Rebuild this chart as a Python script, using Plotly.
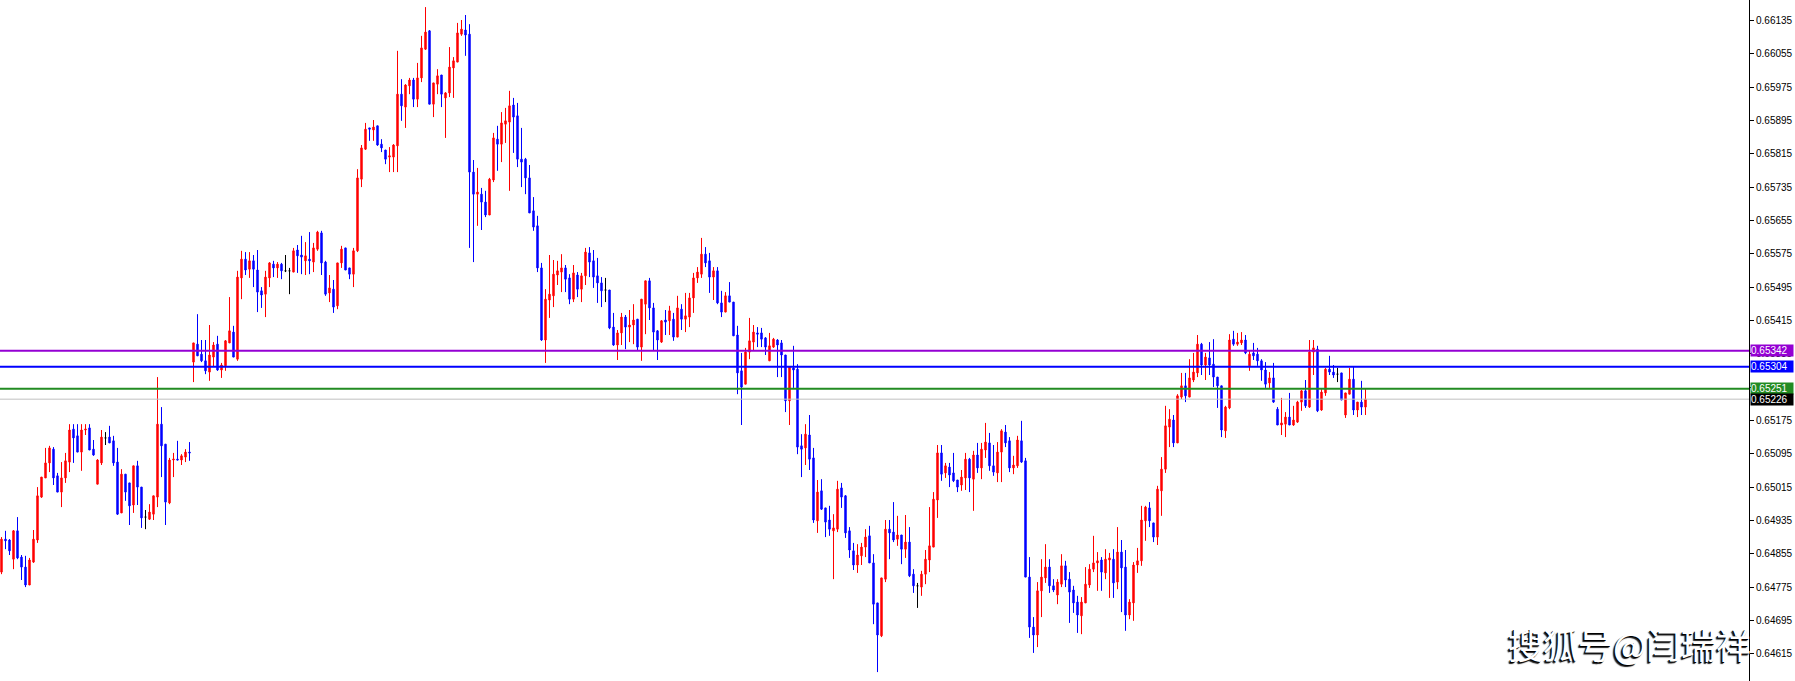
import plotly.graph_objects as go

# ---- data ----
opens = [
0.64811,0.64890,0.64888,0.64842,0.64910,0.64847,0.64823,0.64780,0.64835,0.64888,0.64991,0.65037,
0.65073,0.65106,0.65042,0.65003,0.65037,0.65075,0.65154,0.65138,0.65099,0.65152,0.65157,0.65106,
0.65022,0.65073,0.65133,0.65135,0.65126,0.65075,0.64953,0.65046,0.65025,0.64972,0.65066,0.65015,
0.64943,0.64938,0.64950,0.64991,0.65166,0.65118,0.64977,0.65080,0.65082,0.65080,0.65087,0.65099,
0.65315,0.65358,0.65334,0.65318,0.65291,0.65327,0.65358,0.65296,0.65306,0.65361,0.65387,0.65322,
0.65517,0.65562,0.65538,0.65558,0.65536,0.65486,0.65478,0.65517,0.65550,0.65541,0.65550,0.65534,
0.65534,0.65531,0.65584,0.65572,0.65558,0.65562,0.65555,0.65586,0.65625,0.65555,0.65481,0.65490,
0.65450,0.65553,0.65589,0.65541,0.65526,0.65582,0.65754,0.65826,0.65877,0.65872,0.65882,0.65838,
0.65824,0.65807,0.65807,0.65834,0.65958,0.65927,0.65978,0.65992,0.65946,0.65997,0.66066,0.66110,
0.65934,0.65982,0.66004,0.65949,0.65961,0.66021,0.66035,0.66102,0.66112,0.66102,0.65771,0.65718,
0.65718,0.65699,0.65668,0.65752,0.65850,0.65838,0.65886,0.65891,0.65932,0.65906,0.65802,0.65802,
0.65757,0.65678,0.65642,0.65541,0.65368,0.65464,0.65474,0.65524,0.65531,0.65541,0.65517,0.65466,
0.65524,0.65490,0.65522,0.65577,0.65558,0.65522,0.65505,0.65488,0.65488,0.65399,0.65356,0.65385,
0.65423,0.65399,0.65404,0.65418,0.65351,0.65454,0.65510,0.65445,0.65390,0.65363,0.65416,0.65414,
0.65418,0.65375,0.65442,0.65418,0.65423,0.65469,0.65517,0.65526,0.65574,0.65558,0.65519,0.65534,
0.65457,0.65435,0.65474,0.65459,0.65380,0.65294,0.65262,0.65339,0.65363,0.65385,0.65385,0.65373,
0.65318,0.65351,0.65368,0.65361,0.65332,0.65222,0.65301,0.65298,0.65114,0.65109,0.65140,0.65085,
0.64934,0.65006,0.64965,0.64936,0.64910,0.64914,0.65013,0.64994,0.64910,0.64862,0.64828,0.64850,
0.64871,0.64898,0.64833,0.64737,0.64658,0.64794,0.64914,0.64907,0.64890,0.64900,0.64866,0.64883,
0.64806,0.64778,0.64775,0.64806,0.64840,0.64871,0.64984,0.65097,0.65049,0.65063,0.65049,0.65032,
0.65020,0.65037,0.65082,0.65034,0.65092,0.65061,0.65104,0.65121,0.65066,0.65049,0.65099,0.65147,
0.65126,0.65061,0.65066,0.65126,0.65078,0.64799,0.64679,0.64660,0.64766,0.64797,0.64823,0.64778,
0.64756,0.64782,0.64826,0.64794,0.64768,0.64739,0.64706,0.64737,0.64780,0.64818,0.64833,0.64840,
0.64809,0.64840,0.64842,0.64787,0.64859,0.64823,0.64708,0.64737,0.64828,0.64838,0.64934,0.64965,
0.64929,0.64895,0.65006,0.65058,0.65159,0.65176,0.65121,0.65231,0.65258,0.65231,0.65272,0.65289,
0.65358,0.65308,0.65325,0.65310,0.65279,0.65258,0.65150,0.65205,0.65370,0.65358,0.65361,0.65368,
0.65306,0.65337,0.65334,0.65318,0.65296,0.65265,0.65277,0.65202,0.65164,0.65166,0.65183,0.65164,
0.65171,0.65219,0.65246,0.65207,0.65339,0.65346,0.65200,0.65241,0.65298,0.65291,0.65286,0.65289,
0.65188,0.65238,0.65274,0.65200,0.65219,0.65207]
highs = [
0.64895,0.64910,0.64890,0.64912,0.64943,0.64852,0.64850,0.64845,0.64912,0.65015,0.65039,0.65109,
0.65114,0.65111,0.65049,0.65075,0.65097,0.65166,0.65166,0.65166,0.65166,0.65166,0.65166,0.65128,
0.65082,0.65152,0.65147,0.65162,0.65138,0.65109,0.65058,0.65046,0.65025,0.65066,0.65078,0.65015,
0.64960,0.64974,0.64994,0.65279,0.65207,0.65118,0.65085,0.65097,0.65126,0.65094,0.65106,0.65123,
0.65361,0.65430,0.65368,0.65368,0.65404,0.65363,0.65378,0.65313,0.65368,0.65471,0.65402,0.65534,
0.65582,0.65579,0.65579,0.65572,0.65584,0.65495,0.65534,0.65555,0.65558,0.65555,0.65553,0.65572,
0.65541,0.65589,0.65596,0.65618,0.65603,0.65627,0.65601,0.65630,0.65630,0.65558,0.65524,0.65512,
0.65553,0.65594,0.65589,0.65541,0.65589,0.65778,0.65836,0.65889,0.65877,0.65896,0.65882,0.65850,
0.65824,0.65831,0.65838,0.66062,0.65994,0.65982,0.65997,0.65997,0.66033,0.66098,0.66167,0.66112,
0.65985,0.66018,0.66004,0.65963,0.66071,0.66047,0.66129,0.66136,0.66148,0.66126,0.65800,0.65781,
0.65733,0.65726,0.65757,0.65865,0.65882,0.65915,0.65925,0.65966,0.65949,0.65937,0.65877,0.65805,
0.65788,0.65711,0.65666,0.65553,0.65490,0.65572,0.65560,0.65558,0.65574,0.65548,0.65526,0.65548,
0.65531,0.65529,0.65589,0.65591,0.65584,0.65565,0.65519,0.65517,0.65488,0.65433,0.65392,0.65433,
0.65428,0.65440,0.65454,0.65418,0.65466,0.65510,0.65517,0.65457,0.65392,0.65416,0.65440,0.65450,
0.65433,0.65474,0.65454,0.65481,0.65481,0.65529,0.65543,0.65613,0.65591,0.65577,0.65543,0.65543,
0.65486,0.65483,0.65507,0.65459,0.65402,0.65337,0.65349,0.65421,0.65404,0.65399,0.65397,0.65375,
0.65385,0.65373,0.65370,0.65368,0.65332,0.65303,0.65354,0.65310,0.65142,0.65166,0.65188,0.65109,
0.65032,0.65034,0.64965,0.64970,0.64950,0.65030,0.65025,0.64996,0.64919,0.64881,0.64878,0.64881,
0.64914,0.64922,0.64854,0.64737,0.64797,0.64936,0.64936,0.64979,0.64946,0.64900,0.64948,0.64919,
0.64818,0.64785,0.64814,0.64864,0.64967,0.65003,0.65116,0.65116,0.65073,0.65073,0.65097,0.65032,
0.65056,0.65097,0.65085,0.65102,0.65121,0.65121,0.65169,0.65145,0.65116,0.65123,0.65154,0.65164,
0.65135,0.65090,0.65138,0.65174,0.65085,0.64847,0.64703,0.64787,0.64842,0.64878,0.64842,0.64794,
0.64794,0.64854,0.64838,0.64811,0.64778,0.64754,0.64751,0.64823,0.64830,0.64898,0.64859,0.64847,
0.64866,0.64857,0.64866,0.64919,0.64888,0.64864,0.64746,0.64835,0.64869,0.64970,0.64970,0.64979,
0.64929,0.65018,0.65087,0.65210,0.65202,0.65188,0.65238,0.65289,0.65289,0.65322,0.65337,0.65380,
0.65361,0.65337,0.65363,0.65370,0.65279,0.65258,0.65210,0.65382,0.65390,0.65385,0.65387,0.65380,
0.65344,0.65361,0.65349,0.65322,0.65315,0.65291,0.65313,0.65207,0.65229,0.65195,0.65241,0.65210,
0.65222,0.65248,0.65272,0.65368,0.65368,0.65354,0.65250,0.65301,0.65330,0.65308,0.65301,0.65289,
0.65241,0.65301,0.65303,0.65219,0.65270,0.65250]
lows = [
0.64806,0.64866,0.64852,0.64818,0.64842,0.64792,0.64775,0.64780,0.64833,0.64881,0.64989,0.65037,
0.65051,0.65020,0.65003,0.64967,0.65025,0.65051,0.65073,0.65099,0.65054,0.65140,0.65104,0.65090,
0.65022,0.65068,0.65116,0.65121,0.65066,0.64948,0.64953,0.64982,0.64924,0.64953,0.64972,0.64917,
0.64914,0.64936,0.64936,0.64967,0.65039,0.64924,0.64974,0.65039,0.65080,0.65068,0.65075,0.65078,
0.65267,0.65330,0.65315,0.65286,0.65270,0.65303,0.65294,0.65277,0.65294,0.65361,0.65327,0.65318,
0.65466,0.65524,0.65517,0.65495,0.65435,0.65445,0.65423,0.65495,0.65519,0.65517,0.65514,0.65531,
0.65478,0.65531,0.65529,0.65526,0.65524,0.65526,0.65531,0.65582,0.65524,0.65474,0.65459,0.65433,
0.65442,0.65541,0.65536,0.65514,0.65495,0.65579,0.65735,0.65824,0.65846,0.65846,0.65834,0.65819,
0.65790,0.65771,0.65771,0.65771,0.65894,0.65877,0.65958,0.65927,0.65927,0.65987,0.66064,0.65934,
0.65903,0.65958,0.65927,0.65853,0.65951,0.65949,0.66035,0.66098,0.66050,0.65589,0.65555,0.65642,
0.65632,0.65663,0.65668,0.65747,0.65774,0.65795,0.65841,0.65726,0.65817,0.65783,0.65735,0.65718,
0.65673,0.65630,0.65531,0.65366,0.65313,0.65421,0.65447,0.65500,0.65483,0.65483,0.65454,0.65459,
0.65471,0.65459,0.65500,0.65519,0.65493,0.65457,0.65447,0.65459,0.65394,0.65354,0.65320,0.65356,
0.65346,0.65363,0.65358,0.65342,0.65318,0.65382,0.65416,0.65344,0.65320,0.65361,0.65380,0.65380,
0.65366,0.65375,0.65392,0.65387,0.65399,0.65433,0.65505,0.65517,0.65543,0.65481,0.65464,0.65454,
0.65423,0.65435,0.65459,0.65378,0.65238,0.65164,0.65262,0.65322,0.65342,0.65351,0.65351,0.65332,
0.65318,0.65349,0.65279,0.65279,0.65195,0.65164,0.65253,0.65094,0.65039,0.65068,0.65056,0.64929,
0.64905,0.64960,0.64895,0.64898,0.64794,0.64907,0.64965,0.64893,0.64845,0.64816,0.64809,0.64828,
0.64847,0.64833,0.64686,0.64571,0.64655,0.64787,0.64842,0.64883,0.64874,0.64830,0.64845,0.64799,
0.64761,0.64725,0.64754,0.64782,0.64811,0.64871,0.64941,0.65030,0.65037,0.65015,0.65027,0.65003,
0.65006,0.65008,0.65003,0.64958,0.65049,0.65034,0.65085,0.65054,0.65042,0.65027,0.65027,0.65111,
0.65051,0.65046,0.65061,0.65073,0.64799,0.64653,0.64617,0.64631,0.64703,0.64785,0.64761,0.64763,
0.64734,0.64775,0.64775,0.64689,0.64713,0.64665,0.64662,0.64737,0.64773,0.64811,0.64766,0.64766,
0.64794,0.64749,0.64749,0.64770,0.64715,0.64670,0.64698,0.64694,0.64809,0.64826,0.64886,0.64919,
0.64883,0.64876,0.64946,0.65049,0.65111,0.65111,0.65121,0.65226,0.65219,0.65231,0.65267,0.65279,
0.65284,0.65272,0.65284,0.65255,0.65205,0.65135,0.65133,0.65202,0.65354,0.65354,0.65356,0.65334,
0.65294,0.65320,0.65306,0.65270,0.65253,0.65253,0.65217,0.65164,0.65140,0.65135,0.65164,0.65162,
0.65169,0.65198,0.65205,0.65205,0.65284,0.65195,0.65198,0.65234,0.65284,0.65277,0.65267,0.65224,
0.65181,0.65238,0.65188,0.65183,0.65188,0.65188]
closes = [
0.64890,0.64886,0.64862,0.64910,0.64845,0.64823,0.64780,0.64840,0.64890,0.64994,0.65039,0.65073,
0.65109,0.65037,0.65003,0.65037,0.65078,0.65152,0.65133,0.65099,0.65152,0.65154,0.65104,0.65092,
0.65080,0.65135,0.65133,0.65121,0.65073,0.64950,0.65046,0.65003,0.64970,0.65066,0.65015,0.64941,
0.64943,0.64955,0.64994,0.65166,0.65114,0.64979,0.65080,0.65082,0.65080,0.65090,0.65099,0.65097,
0.65361,0.65330,0.65318,0.65294,0.65332,0.65356,0.65296,0.65308,0.65366,0.65390,0.65327,0.65519,
0.65562,0.65536,0.65558,0.65538,0.65483,0.65476,0.65519,0.65553,0.65541,0.65550,0.65534,0.65534,
0.65534,0.65582,0.65570,0.65567,0.65570,0.65558,0.65589,0.65627,0.65553,0.65478,0.65493,0.65447,
0.65553,0.65586,0.65536,0.65526,0.65582,0.65757,0.65829,0.65874,0.65874,0.65879,0.65836,0.65829,
0.65802,0.65810,0.65836,0.65958,0.65930,0.65980,0.65992,0.65946,0.65997,0.66069,0.66107,0.65934,
0.65985,0.66002,0.65958,0.65961,0.66023,0.66038,0.66105,0.66114,0.66100,0.65771,0.65718,0.65723,
0.65699,0.65668,0.65754,0.65853,0.65838,0.65889,0.65894,0.65930,0.65903,0.65802,0.65795,0.65757,
0.65673,0.65639,0.65541,0.65368,0.65466,0.65478,0.65526,0.65534,0.65541,0.65514,0.65466,0.65529,
0.65490,0.65522,0.65579,0.65555,0.65519,0.65505,0.65486,0.65488,0.65397,0.65356,0.65385,0.65423,
0.65399,0.65404,0.65416,0.65351,0.65466,0.65510,0.65445,0.65387,0.65368,0.65414,0.65411,0.65438,
0.65375,0.65445,0.65418,0.65426,0.65469,0.65517,0.65531,0.65574,0.65553,0.65519,0.65534,0.65457,
0.65435,0.65474,0.65459,0.65378,0.65289,0.65255,0.65339,0.65366,0.65387,0.65382,0.65370,0.65351,
0.65354,0.65370,0.65356,0.65332,0.65222,0.65303,0.65296,0.65111,0.65106,0.65142,0.65082,0.64936,
0.65003,0.64962,0.64931,0.64914,0.64917,0.65010,0.64991,0.64905,0.64864,0.64828,0.64852,0.64871,
0.64895,0.64833,0.64734,0.64660,0.64797,0.64914,0.64905,0.64888,0.64900,0.64866,0.64883,0.64802,
0.64778,0.64778,0.64806,0.64842,0.64874,0.64986,0.65097,0.65046,0.65066,0.65044,0.65030,0.65015,
0.65039,0.65082,0.65037,0.65092,0.65061,0.65106,0.65123,0.65066,0.65051,0.65099,0.65150,0.65121,
0.65061,0.65068,0.65128,0.65075,0.64799,0.64679,0.64660,0.64766,0.64799,0.64823,0.64778,0.64768,
0.64787,0.64826,0.64792,0.64763,0.64737,0.64708,0.64739,0.64782,0.64818,0.64833,0.64838,0.64811,
0.64842,0.64845,0.64785,0.64859,0.64821,0.64708,0.64739,0.64828,0.64838,0.64936,0.64967,0.64934,
0.64895,0.65010,0.65058,0.65162,0.65178,0.65121,0.65234,0.65258,0.65234,0.65277,0.65291,0.65358,
0.65308,0.65327,0.65308,0.65279,0.65258,0.65152,0.65207,0.65368,0.65358,0.65363,0.65368,0.65337,
0.65334,0.65330,0.65318,0.65296,0.65262,0.65277,0.65219,0.65164,0.65169,0.65183,0.65164,0.65176,
0.65219,0.65246,0.65210,0.65339,0.65349,0.65198,0.65243,0.65298,0.65291,0.65284,0.65286,0.65224,
0.65241,0.65274,0.65200,0.65219,0.65207,0.65226]

tick_values = [0.64615, 0.64695, 0.64775, 0.64855, 0.64935, 0.65015, 0.65095,
               0.65175, 0.65255, 0.65335, 0.65415, 0.65495, 0.65575, 0.65655,
               0.65735, 0.65815, 0.65895, 0.65975, 0.66055, 0.66135]
level_values = [0.65342, 0.65304, 0.65251]
level_colors = ["#9400D3", "#0000FF", "#228B22"]
last_price = 0.65226
watermark = "搜狐号@闫瑞祥"

# ---- figure ----
n = len(opens)
idx = list(range(n))
groups = {
    "up": [i for i in idx if closes[i] > opens[i]],
    "down": [i for i in idx if closes[i] < opens[i]],
    "flat": [i for i in idx if closes[i] == opens[i]],
}
group_color = {"up": "#FF0000", "down": "#0000FF", "flat": "#000000"}

fig = go.Figure()
for name, sel in groups.items():
    c = group_color[name]
    fig.add_trace(go.Candlestick(
        x=sel,
        open=[opens[i] for i in sel], high=[highs[i] for i in sel],
        low=[lows[i] for i in sel], close=[closes[i] for i in sel],
        increasing=dict(line=dict(color=c, width=1), fillcolor=c),
        decreasing=dict(line=dict(color=c, width=1), fillcolor=c),
        whiskerwidth=0, hoverinfo="skip", showlegend=False,
    ))

shapes = []
for v, c in zip(level_values, level_colors):
    shapes.append(dict(type="line", xref="paper", x0=0, x1=1, yref="y", y0=v, y1=v,
                       line=dict(color=c, width=2), layer="above"))
shapes.append(dict(type="line", xref="paper", x0=0, x1=1, yref="y", y0=last_price, y1=last_price,
                   line=dict(color="#C0C0C0", width=1), layer="above"))

annotations = []
for v, c in list(zip(level_values, level_colors)) + [(last_price, "#000000")]:
    annotations.append(dict(
        xref="paper", x=1, xanchor="left", xshift=1,
        yref="y", y=v, yanchor="middle",
        text=f"{v:.5f}", showarrow=False, bgcolor=c, borderpad=0,
        width=42, height=11, align="left",
        font=dict(family="Liberation Sans", size=10, color="white"),
    ))
annotations.append(dict(
    xref="paper", x=1, xanchor="right", xshift=4,
    yref="paper", y=1 - 643 / 681, yanchor="middle",
    text=watermark, showarrow=False,
    font=dict(family="Noto Sans CJK SC", size=35, color="white",
              shadow="-1px 1px 0px #000, -2px 2px 1px #222"),
))

fig.update_layout(
    width=1795, height=681,
    margin=dict(l=0, r=46, t=0, b=0),
    paper_bgcolor="white", plot_bgcolor="white",
    boxgap=0.5,
    shapes=shapes, annotations=annotations,
    xaxis=dict(range=[-0.375, 436.875], visible=False, rangeslider=dict(visible=False),
               showgrid=False, zeroline=False),
    yaxis=dict(range=[0.645496, 0.66184], side="right", tickvals=tick_values,
               tickformat=".5f", showgrid=False, zeroline=False,
               showline=True, linecolor="black", linewidth=1,
               ticks="outside", ticklen=4, tickcolor="black",
               tickfont=dict(family="Liberation Sans", size=10, color="black")),
)

fig.write_html("out.html",
               config={"displayModeBar": False},
               post_script="document.body.style.margin='0';document.body.style.overflow='hidden';")
